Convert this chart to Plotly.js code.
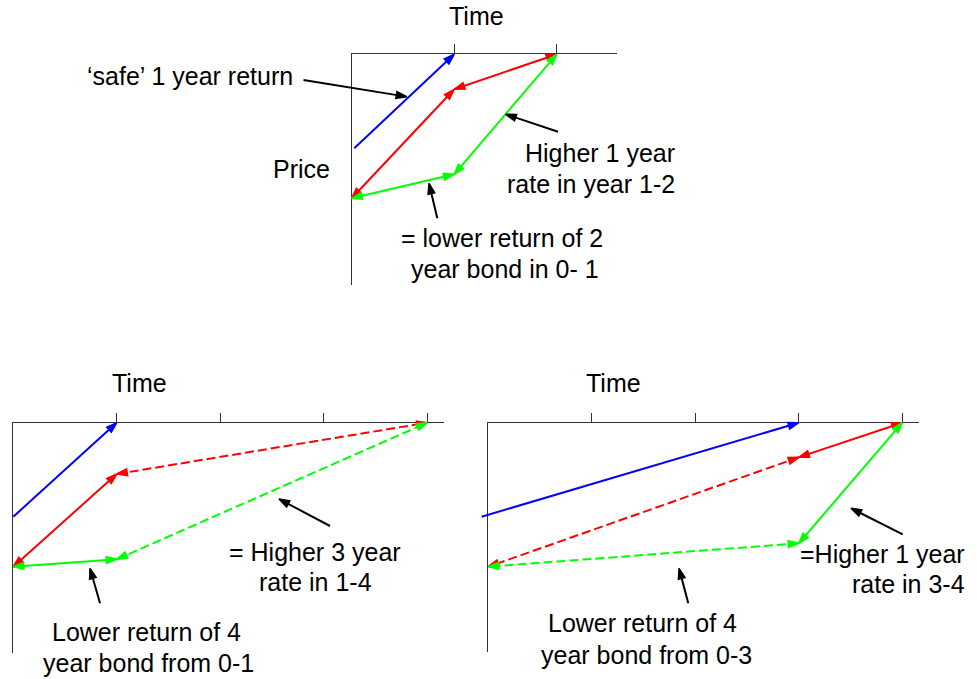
<!DOCTYPE html>
<html><head><meta charset="utf-8">
<script src="https://cdn.plot.ly/plotly-3.0.1.min.js"></script>
<style>html,body{margin:0;padding:0;background:#fff}#chart{width:977px;height:679px}</style>
</head><body><div id="chart"></div>
<script>
// ---- DATA (x = time in years, y = price relative to the top axis) ----
// Panel 1: 2-year example
const p1BlueX = [0.025, 1];
const p1BlueY = [-0.94, 0];
const p1RedX = [0, 1, 2];
const p1RedY = [-1.44, -0.35, 0];
const p1GreenX = [0, 1, 2];
const p1GreenY = [-1.44, -1.2, 0];
const p1PtrSafeX = [-0.47, 0.537];
const p1PtrSafeY = [-0.257, -0.424];
const p1PtrHigherX = [2.013, 1.502];
const p1PtrHigherY = [-0.774, -0.60];
const p1PtrLowerX = [0.835, 0.754];
const p1PtrLowerY = [-1.64, -1.29];
const p1Ticks = [1, 2];

// Panel 2: 4-year bond, 1-4 rate
const p2BlueX = [0, 1];
const p2BlueY = [-0.94, 0];
const p2RedX = [0, 1, 4];
const p2RedY = [-1.44, -0.513, 0];
const p2GreenX = [0, 1, 4];
const p2GreenY = [-1.44, -1.366, 0];
const p2PtrHigherX = [3.06, 2.567];
const p2PtrHigherY = [-1.033, -0.763];
const p2PtrLowerX = [0.838, 0.741];
const p2PtrLowerY = [-1.806, -1.456];
const p2Ticks = [1, 2, 3, 4];

// Panel 3: 4-year bond, 3-4 rate
const p3BlueX = [-0.064, 3];
const p3BlueY = [-0.94, 0];
const p3RedX = [4, 3, 0];
const p3RedY = [0, -0.346, -1.44];
const p3GreenX = [4, 3, 0];
const p3GreenY = [0, -1.206, -1.44];
const p3PtrHigherX = [4.004, 3.504];
const p3PtrHigherY = [-1.116, -0.856];
const p3PtrLowerX = [1.932, 1.843];
const p3PtrLowerY = [-1.806, -1.456];
const p3Ticks = [1, 2, 3, 4];

// ---- LAYOUT GEOMETRY ----
const W = 977, H = 679, SY = 100;
const panels = [
  {ox: 351.7, oy: 54.3, sx: 102.5, right: 616.7, bottom: 285, ticks: p1Ticks},
  {ox: 13.3, oy: 422.7, sx: 103.5, right: 444, bottom: 653, ticks: p2Ticks},
  {ox: 488.3, oy: 422.7, sx: 103.5, right: 919, bottom: 652, ticks: p3Ticks}
];
const AXC = '#333333';
const BLUE = '#0000ff', RED = '#ff0000', GREEN = '#00ff00', BLACK = '#000000';
const DASH = '9px,4px';
const HEAD = 11;

const layout = {
  width: W, height: H,
  margin: {l: 0, r: 0, t: 0, b: 0},
  paper_bgcolor: '#ffffff', plot_bgcolor: 'rgba(0,0,0,0)',
  showlegend: false,
  font: {family: 'Liberation Sans, Arial, sans-serif', size: 25, color: '#000'},
  annotations: []
};
const traces = [];

panels.forEach((p, i) => {
  const n = i + 1;
  const xs = n === 1 ? '' : String(n);
  const m = n + 3;
  layout['xaxis' + xs] = {
    domain: [p.ox / W, p.right / W], range: [0, (p.right - p.ox) / p.sx],
    side: 'top', anchor: 'y' + xs, showline: true, linecolor: AXC, linewidth: 1,
    ticks: 'outside', ticklen: 9, tickwidth: 1, tickcolor: AXC,
    tickmode: 'array', tickvals: p.ticks, showticklabels: false,
    showgrid: false, zeroline: false, fixedrange: true
  };
  layout['yaxis' + xs] = {
    domain: [1 - p.bottom / H, 1 - p.oy / H], range: [-(p.bottom - p.oy) / SY, 0],
    anchor: 'x' + xs, showline: true, linecolor: AXC, linewidth: 1,
    ticks: '', showticklabels: false, showgrid: false, zeroline: false, fixedrange: true
  };
  // full-figure drawing axes sharing the panel's scale
  layout['xaxis' + m] = {domain: [0, 1], range: [-p.ox / p.sx, (W - p.ox) / p.sx],
    anchor: 'y' + m, visible: false, fixedrange: true};
  layout['yaxis' + m] = {domain: [0, 1], range: [-(H - p.oy) / SY, p.oy / SY],
    anchor: 'x' + m, visible: false, fixedrange: true};
  traces.push({x: [], y: [], xaxis: 'x' + xs, yaxis: 'y' + xs, mode: 'markers', hoverinfo: 'skip'});
});

function headMarker(color) {
  return {symbol: 'arrow', angleref: 'previous', size: [0, HEAD], color: color,
          opacity: 1, line: {color: color, width: 1.5}};
}

function arrows(X, Y, panel, color, dashes, both) {
  const ax = 'x' + (panel + 3), ay = 'y' + (panel + 3);
  for (let k = 0; k < X.length - 1; k++) {
    const dash = dashes[k] || 'solid';
    traces.push({
      x: [X[k], X[k + 1]], y: [Y[k], Y[k + 1]], xaxis: ax, yaxis: ay,
      mode: 'lines+markers', hoverinfo: 'skip', cliponaxis: false,
      line: {color: color, width: 2, dash: dash},
      marker: headMarker(color)
    });
    if (both) {
      traces.push({
        x: [X[k + 1], X[k]], y: [Y[k + 1], Y[k]], xaxis: ax, yaxis: ay,
        mode: 'markers', hoverinfo: 'skip', cliponaxis: false,
        marker: headMarker(color)
      });
    }
  }
}

// Panel 1
arrows(p1BlueX, p1BlueY, 1, BLUE, ['solid'], false);
arrows(p1RedX, p1RedY, 1, RED, ['solid', 'solid'], true);
arrows(p1GreenX, p1GreenY, 1, GREEN, ['solid', 'solid'], true);
arrows(p1PtrSafeX, p1PtrSafeY, 1, BLACK, ['solid'], false);
arrows(p1PtrHigherX, p1PtrHigherY, 1, BLACK, ['solid'], false);
arrows(p1PtrLowerX, p1PtrLowerY, 1, BLACK, ['solid'], false);
// Panel 2
arrows(p2BlueX, p2BlueY, 2, BLUE, ['solid'], false);
arrows(p2RedX, p2RedY, 2, RED, ['solid', DASH], true);
arrows(p2GreenX, p2GreenY, 2, GREEN, ['solid', DASH], true);
arrows(p2PtrHigherX, p2PtrHigherY, 2, BLACK, ['solid'], false);
arrows(p2PtrLowerX, p2PtrLowerY, 2, BLACK, ['solid'], false);
// Panel 3
arrows(p3BlueX, p3BlueY, 3, BLUE, ['solid'], false);
arrows(p3RedX, p3RedY, 3, RED, ['solid', DASH], true);
arrows(p3GreenX, p3GreenY, 3, GREEN, ['solid', DASH], true);
arrows(p3PtrHigherX, p3PtrHigherY, 3, BLACK, ['solid'], false);
arrows(p3PtrLowerX, p3PtrLowerY, 3, BLACK, ['solid'], false);

// ---- TEXT ----
function label(text, px, py, anchor) {
  layout.annotations.push({
    text: text, xref: 'paper', yref: 'paper', x: px / W, y: 1 - py / H,
    xanchor: anchor || 'center', yanchor: 'middle', showarrow: false,
    font: {family: 'Liberation Sans, Arial, sans-serif', size: 25, color: '#000'}
  });
}
label('Time', 476, 16);
label('\u2018safe\u2019 1 year return', 190, 76);
label('Price', 301, 169);
label('Higher 1 year', 677, 153, 'right');
label('rate in year 1-2', 677, 184, 'right');
label('= lower return of 2', 502, 238);
label('year bond in 0- 1', 505, 269);

label('Time', 139, 383);
label('= Higher 3 year', 315, 552);
label('rate in 1-4', 315, 582);
label('Lower return of 4', 146, 632);
label('year bond from 0-1', 148, 663);

label('Time', 613, 383);
label('=Higher 1 year', 967, 554, 'right');
label('rate in 3-4', 967, 584, 'right');
label('Lower return of 4', 642, 623);
label('year bond from 0-3', 646, 655);

Plotly.newPlot('chart', traces, layout, {staticPlot: true, displayModeBar: false});
</script>
</body></html>
